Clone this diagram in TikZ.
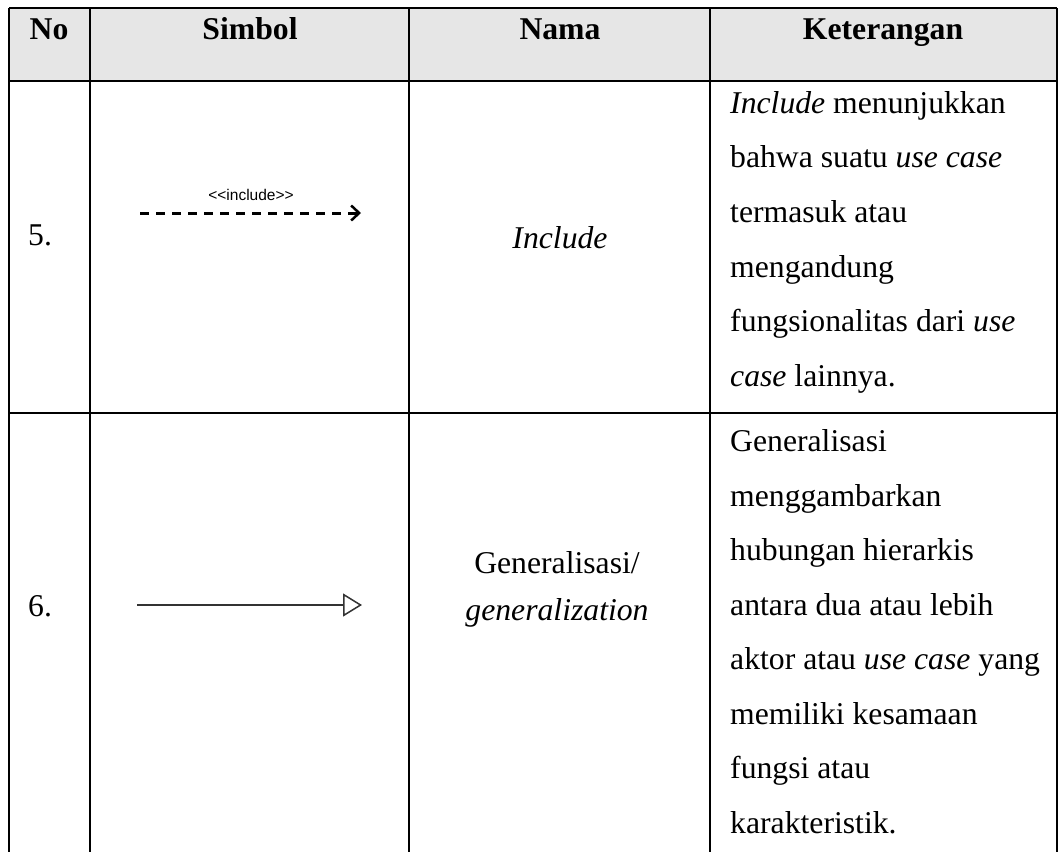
\documentclass[tikz,border=0pt]{standalone}
\usepackage{fontspec}
\setmainfont{Liberation Serif}
\newfontfamily\arialfont{Liberation Sans}
\usetikzlibrary{arrows.meta}
\definecolor{headgray}{HTML}{E6E6E6}
\definecolor{arrowgray}{HTML}{333333}
\tikzset{
  gridline/.style={line width=1.6pt, black},
  body/.style={font=\fontsize{31.7}{38}\selectfont, inner sep=0pt},
  head/.style={font=\fontsize{31.7}{38}\selectfont\bfseries, inner sep=0pt},
  ket/.style={body, anchor=base west},
  stereo/.style={font=\arialfont\fontsize{15.5}{18}\selectfont, inner sep=0pt, anchor=base},
  includearrow/.style={line width=3pt, dash pattern=on 9pt off 7pt, -{Straight Barb[length=8pt,width=15pt,line width=2.5pt]}},
  genarrow/.style={line width=1.5pt, arrowgray, -{Triangle[open,length=19pt,width=23pt,line width=1.5pt]}}
}
\begin{document}
\begin{tikzpicture}[x=1pt,y=-1pt]
\useasboundingbox (0,0) rectangle (1058,852);
\fill[white] (0,0) rectangle (1058,852);
\fill[headgray] (9,8) rectangle (1057,81);
% grid
\draw[gridline] (9,8) -- (1057,8);
\draw[gridline] (9,81) -- (1057,81);
\draw[gridline] (9,413) -- (1057,413);
\foreach \x in {9,90,409,710,1057} \draw[gridline] (\x,8) -- (\x,852);
% header
\node[head, anchor=base] (hno) at (49,39) {No};
\node[head, anchor=base] (hsim) at (250,39) {Simbol};
\node[head, anchor=base] (hnama) at (560,39) {Nama};
\node[head, anchor=base] (hket) at (883,39) {Keterangan};
% row 5
\node[body, anchor=base west] (n5) at (28,245) {5.};
\coordinate (i1) at (140,213);
\coordinate (i2) at (361,213);
\draw[includearrow] (i1) -- (i2);
\node[stereo] (inclab) at (251,200) {<\kern0pt<include>\kern0pt>};
\node[body, anchor=base] (nm5) at (560,248) {\itshape Include};
\node[ket] (k51) at (730,113) {\textit{Include} menunjukkan};
\node[ket] (k52) at (730,167) {bahwa suatu \textit{use case}};
\node[ket] (k53) at (730,222) {termasuk atau};
\node[ket] (k54) at (730,277) {mengandung};
\node[ket] (k55) at (730,331) {fungsionalitas dari \textit{use}};
\node[ket] (k56) at (730,386) {\textit{case} lainnya.};
% row 6
\node[body, anchor=base west] (n6) at (28,616) {6.};
\coordinate (g1) at (137,605);
\coordinate (g2) at (362,605);
\draw[genarrow] (g1) -- (g2);
\node[body, anchor=base] (nm61) at (557,573) {Generalisasi/};
\node[body, anchor=base] (nm62) at (557,620) {\itshape generalization};
\node[ket] (k61) at (730,451) {Generalisasi};
\node[ket] (k62) at (730,506) {menggambarkan};
\node[ket] (k63) at (730,560) {hubungan hierarkis};
\node[ket] (k64) at (730,615) {antara dua atau lebih};
\node[ket] (k65) at (730,669) {aktor atau \textit{use case} yang};
\node[ket] (k66) at (730,724) {memiliki kesamaan};
\node[ket] (k67) at (730,778) {fungsi atau};
\node[ket] (k68) at (730,833) {karakteristik.};
\end{tikzpicture}
\end{document}
